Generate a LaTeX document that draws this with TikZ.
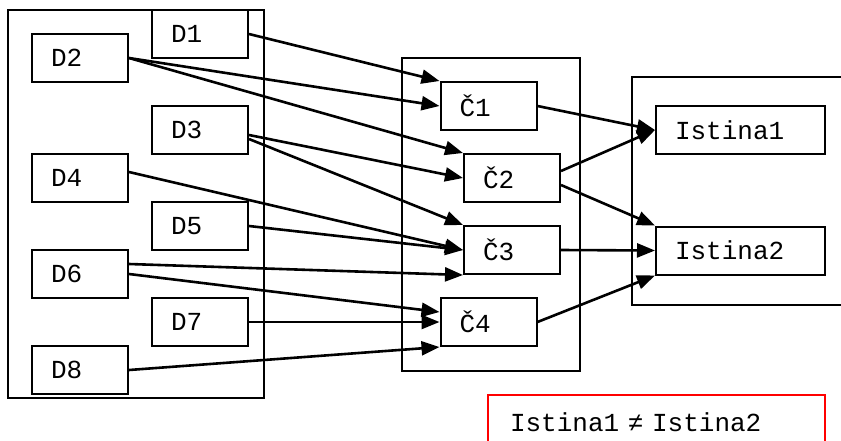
\documentclass[tikz,border=0pt]{standalone}
\usepackage{fontspec}
\setmonofont{Liberation Mono}
\usetikzlibrary{arrows.meta}
\tikzset{
	dbox/.style={draw, line width=2pt, minimum height=48pt, inner xsep=19pt, text width=58pt, align=left},
	ibox/.style={dbox, text width=131pt},
	grp/.style={draw, line width=2pt},
	conn/.style={line width=2.6pt, -{Triangle[length=18pt,width=14pt]}}
}

\begin{document}
\begin{tikzpicture}[x=1pt, y=-1pt, font=\fontsize{26pt}{30pt}\selectfont\ttfamily]
		%%%%% START %%%%%
		\useasboundingbox (0, 0) rectangle (841, 440);
		
		\draw[grp] (8, 10) rectangle (264, 398);
		\draw[grp] (402, 58) rectangle (580, 371);
		\draw[grp] (632, 77) rectangle (860, 305);
		
		\node[dbox] (D1) at (200, 34) {D1};
		\node[dbox] (D2) at (80, 58) {D2};
		\node[dbox] (D3) at (200, 130) {D3};
		\node[dbox] (D4) at (80, 178) {D4};
		\node[dbox] (D5) at (200, 226) {D5};
		\node[dbox] (D6) at (80, 274) {D6};
		\node[dbox] (D7) at (200, 322) {D7};
		\node[dbox] (D8) at (80, 370) {D8};
		
		\node[dbox] (C1) at (488.5, 106) {Č1};
		\node[dbox] (C2) at (512, 178) {Č2};
		\node[dbox] (C3) at (512, 250) {Č3};
		\node[dbox] (C4) at (488.5, 322) {Č4};
		
		\node[ibox] (I1) at (740.5, 130) {Istina1};
		\node[ibox] (I2) at (740.5, 250.5) {Istina2};
		
		\node[draw=red, line width=2pt, anchor=north west, minimum height=54pt, inner xsep=22pt, text width=293pt, align=left] (neq) at (487, 394) {Istina1 ≠ Istina2};
		
		\draw[conn] (D1.east) -- (C1.north west);
		\draw[conn] (D2.east) -- (C1.west);
		\draw[conn] (D2.east) -- (C2.north west);
		\draw[conn] ([yshift=-5pt]D3.east) -- (C2.west);
		\draw[conn] ([yshift=-9pt]D3.east) -- (C3.north west);
		\draw[conn] ([yshift=6pt]D4.east) -- (C3.west);
		\draw[conn] (D5.east) -- (C3.west);
		\draw[conn] ([yshift=10pt]D6.east) -- (C3.south west);
		\draw[conn] (D6.east) -- ([yshift=10pt]C4.west);
		\draw[conn] (D7.east) -- (C4.west);
		\draw[conn] (D8.east) -- (C4.south west);
		
		\draw[conn] (C1.east) -- (I1.west);
		\draw[conn] ([yshift=7pt]C2.east) -- (I1.west);
		\draw[conn] ([yshift=-7pt]C2.east) -- (I2.north west);
		\draw[conn] (C3.east) -- (I2.west);
		\draw[conn] (C4.east) -- (I2.south west);
		%%%%% END %%%%%
	\end{tikzpicture}
\end{document}
